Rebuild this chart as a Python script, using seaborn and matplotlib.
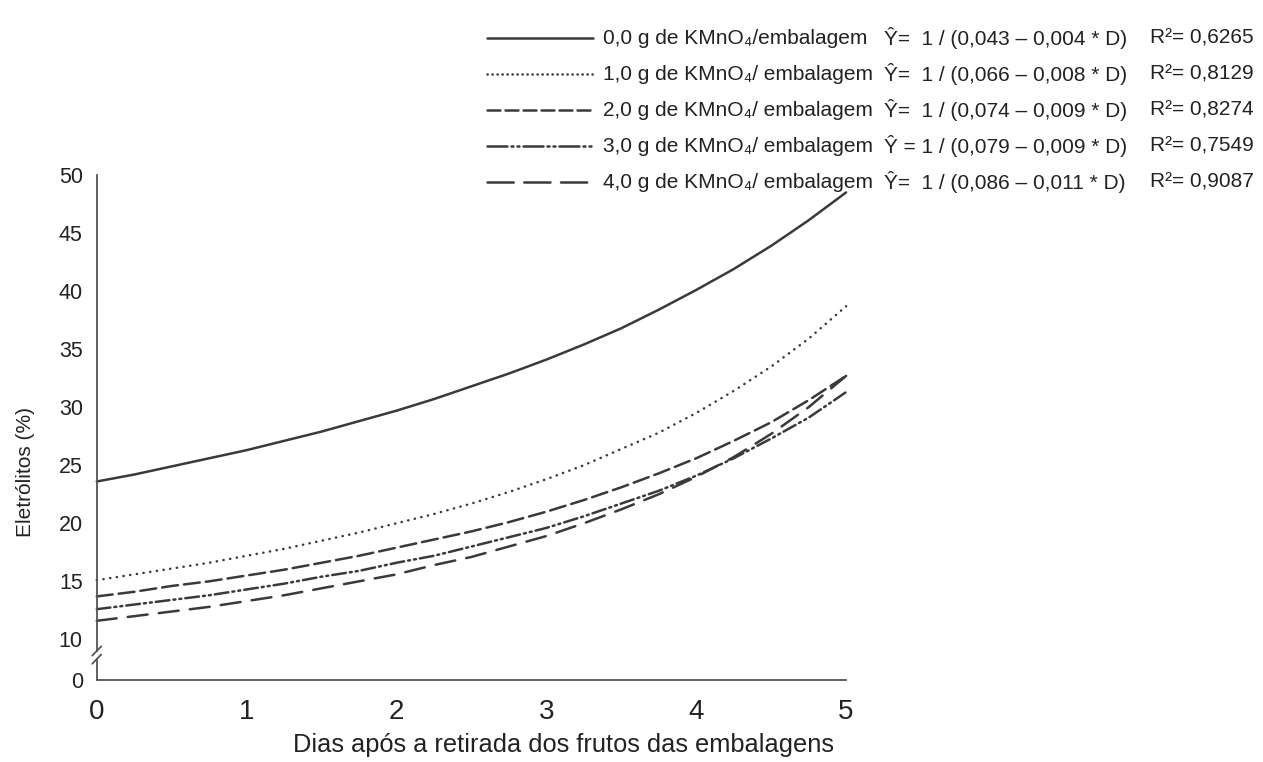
import numpy as np
import pandas as pd
import matplotlib
matplotlib.use("Agg")
import matplotlib.pyplot as plt
from matplotlib.lines import Line2D
import seaborn as sns

# values (every quarter day)
dias = [0, 0.25, 0.5, 0.75, 1, 1.25, 1.5, 1.75, 2, 2.25, 2.5,
        2.75, 3, 3.25, 3.5, 3.75, 4, 4.25, 4.5, 4.75, 5]
kmno4_0 = [23.6, 24.2, 24.9, 25.6, 26.3, 27.1, 27.9, 28.8, 29.7, 30.7, 31.8,
           32.9, 34.1, 35.4, 36.8, 38.4, 40.1, 41.9, 43.9, 46.1, 48.5]
kmno4_1 = [15.1, 15.6, 16.1, 16.6, 17.2, 17.8, 18.5, 19.2, 20.0, 20.8, 21.7,
           22.7, 23.8, 25.0, 26.4, 27.8, 29.5, 31.4, 33.5, 35.9, 38.7]
kmno4_2 = [13.7, 14.1, 14.6, 15.0, 15.5, 16.0, 16.6, 17.2, 17.9, 18.6, 19.3,
           20.1, 21.0, 22.0, 23.1, 24.3, 25.6, 27.1, 28.7, 30.6, 32.7]
kmno4_3 = [12.6, 13.0, 13.4, 13.8, 14.3, 14.8, 15.4, 15.9, 16.6, 17.2, 18.0,
           18.8, 19.6, 20.6, 21.7, 22.8, 24.1, 25.6, 27.3, 29.1, 31.3]
kmno4_4 = [11.6, 12.0, 12.4, 12.8, 13.3, 13.8, 14.4, 15.0, 15.6, 16.4, 17.1,
           18.0, 18.9, 20.0, 21.2, 22.5, 24.0, 25.7, 27.7, 30.0, 32.7]

doses = ["0,0 g de KMnO\u2084/embalagem",
         "1,0 g de KMnO\u2084/ embalagem",
         "2,0 g de KMnO\u2084/ embalagem",
         "3,0 g de KMnO\u2084/ embalagem",
         "4,0 g de KMnO\u2084/ embalagem"]
equacoes = ["\u0176=  1 / (0,043 \u2013 0,004 * D)",
            "\u0176=  1 / (0,066 \u2013 0,008 * D)",
            "\u0176=  1 / (0,074 \u2013 0,009 * D)",
            "\u0176 = 1 / (0,079 \u2013 0,009 * D)",
            "\u0176=  1 / (0,086 \u2013 0,011 * D)"]
r2 = ["0,6265", "0,8129", "0,8274", "0,7549", "0,9087"]

y_ticks = [10, 15, 20, 25, 30, 35, 40, 45, 50]
y_zero = 6.5  # where the "0" tick sits below the axis break

series = [kmno4_0, kmno4_1, kmno4_2, kmno4_3, kmno4_4]
estilos = ["-", (0, (0.1, 2.6)), (0, (6.4, 2.4)),
           (0, (5.5, 1.6, 0.8, 1.6, 0.8, 1.6)), (0, (8, 4.5))]
estilos_leg = ["-", (0, (0.1, 1.9)), (0, (5.2, 2.0)),
               (0, (8, 1.6, 0.8, 1.6, 0.8, 1.6)), (0, (10.5, 4.2))]

cor = "#3a3a3a"
fonte = ["Liberation Sans", "DejaVu Sans"]

sns.set_style("white")
plt.rcParams["font.family"] = fonte

fig = plt.figure(figsize=(12.63, 7.62), dpi=100)
ax = fig.add_axes([0.0766, 0.1076, 0.5933, 0.6627])

df = pd.DataFrame({"dias": dias * 5,
                   "eletrolitos": sum(series, []),
                   "dose": np.repeat(doses, len(dias))})

for i, d in enumerate(doses):
    sub = df[df["dose"] == d]
    sns.lineplot(data=sub, x="dias", y="eletrolitos", ax=ax, color=cor,
                 lw=1.8, legend=False, errorbar=None)
    ln = ax.lines[-1]
    ln.set_linestyle(estilos[i])
    ln.set_dash_capstyle("round")
    ln.set_clip_on(False)

ax.set_xlim(0, 5)
ax.set_ylim(y_zero, 50)
ax.set_xticks([0, 1, 2, 3, 4, 5])
ax.set_xticklabels(["0", "1", "2", "3", "4", "5"], fontsize=20)
ax.set_yticks([y_zero] + y_ticks)
ax.set_yticklabels(["0"] + [str(t) for t in y_ticks], fontsize=15.5)
ax.set_xlabel("")
ax.set_ylabel("")

for s in ["top", "right"]:
    ax.spines[s].set_visible(False)
for s in ["left", "bottom"]:
    ax.spines[s].set_color("#555555")
    ax.spines[s].set_linewidth(1.3)
ax.spines["left"].set_bounds(9.0, 50)
ax.tick_params(axis="both", direction="out", color="#555555", width=1.3,
               length=6, labelcolor="#222222")
ax.tick_params(axis="x", pad=8)
ax.tick_params(axis="y", pad=4)

# axis break on the y axis
ax.plot([0, 0], [y_zero, 8.3], color="#555555", lw=1.3, clip_on=False)
for yb in [9.0, 8.3]:
    ax.plot([-0.03, 0.03], [yb - 0.4, yb + 0.4], color="#555555", lw=1.3,
            clip_on=False)

fig.text(0.446, 0.022, "Dias ap\u00f3s a retirada dos frutos das embalagens",
         ha="center", va="center", fontsize=18.3, color="#222222")
fig.text(0.02, 0.38, "Eletr\u00f3litos (%)", rotation=90, ha="center",
         va="center", fontsize=15, color="#222222")

# legend block at the top right
linhas_y = [38, 74, 110, 146, 182]
for i in range(5):
    yf = 1 - linhas_y[i] / 762
    fig.add_artist(Line2D([487 / 1263, 593 / 1263], [yf, yf], color=cor,
                          lw=1.8, linestyle=estilos_leg[i],
                          dash_capstyle="round"))
    fig.text(603 / 1263, yf, doses[i], ha="left", va="center",
             fontsize=15, color="#222222")
    fig.text(884 / 1263, yf, equacoes[i], ha="left", va="center",
             fontsize=15, color="#222222")
    fig.text(1150 / 1263, yf, "R\u00b2= " + r2[i], ha="left", va="center",
             fontsize=15, color="#222222")

fig.savefig("out.png", dpi=100)
